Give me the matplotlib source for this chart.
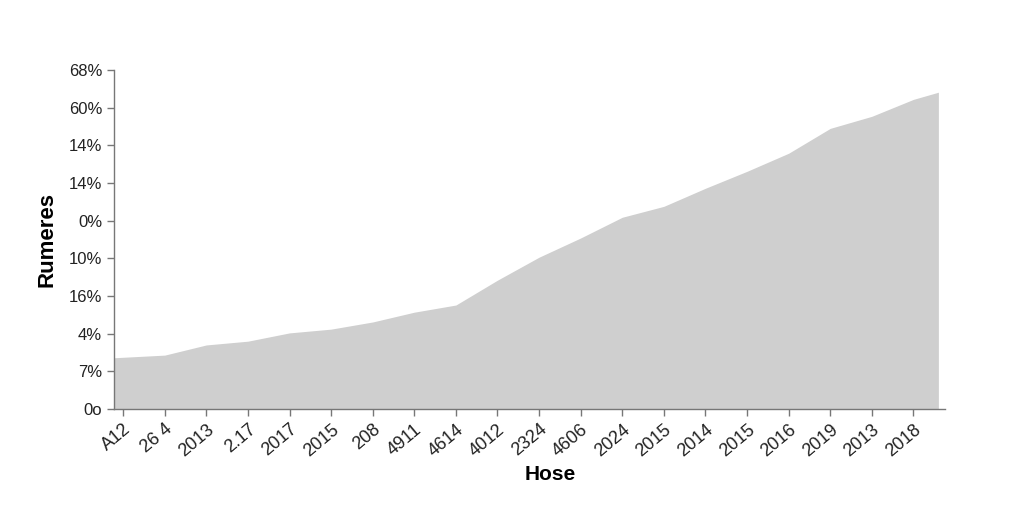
import matplotlib
matplotlib.use("Agg")
import matplotlib.pyplot as plt

x_pos = [-0.22, 1, 2, 3, 4, 5, 6, 7, 8, 9, 10, 11, 12, 13, 14, 15, 16, 17, 18, 19, 19.6]
values = [1.36, 1.43, 1.70, 1.80, 2.02, 2.12, 2.31, 2.57, 2.76, 3.42, 4.03, 4.54,
          5.09, 5.38, 5.86, 6.31, 6.79, 7.45, 7.77, 8.22, 8.41]
x_labels = ["A12", "26 4", "2013", "2.17", "2017", "2015", "208", "4911", "4614", "4012",
            "2324", "4606", "2024", "2015", "2014", "2015", "2016", "2019", "2013", "2018"]
y_labels = ["0o", "7%", "4%", "16%", "10%", "0%", "14%", "14%", "60%", "68%"]

plt.rcParams['font.family'] = ['Liberation Sans', 'DejaVu Sans']
fig = plt.figure(figsize=(10.24, 5.12), dpi=100)
ax = fig.add_axes([0.1113, 0.2012, 0.8116, 0.6621])
ax.fill_between(x_pos, values, 0, color="#cfcfcf", linewidth=0)
ax.set_xlim(-0.22, 19.76)
ax.set_ylim(0, 9)
ax.set_xticks(range(len(x_labels)))
ax.set_xticklabels(x_labels, rotation=40, ha="right", rotation_mode="anchor", fontsize=13, color="#222222")
ax.set_yticks(range(len(y_labels)))
ax.set_yticklabels(y_labels, fontsize=12, color="#222222")
for s in ["top", "right"]:
    ax.spines[s].set_visible(False)
for s in ["left", "bottom"]:
    ax.spines[s].set_color("#777777")
    ax.spines[s].set_linewidth(1.0)
ax.tick_params(axis="both", colors="#777777", labelcolor="#222222", length=5, width=1)
ax.set_xlabel("Hose", fontsize=15, fontweight="bold")
ax.xaxis.set_label_coords(0.525, -0.165)
ax.set_ylabel("Rumeres", fontsize=16, fontweight="bold")
ax.yaxis.set_label_coords(-0.068, 0.5)
fig.savefig("out.png", dpi=100, facecolor="white")
